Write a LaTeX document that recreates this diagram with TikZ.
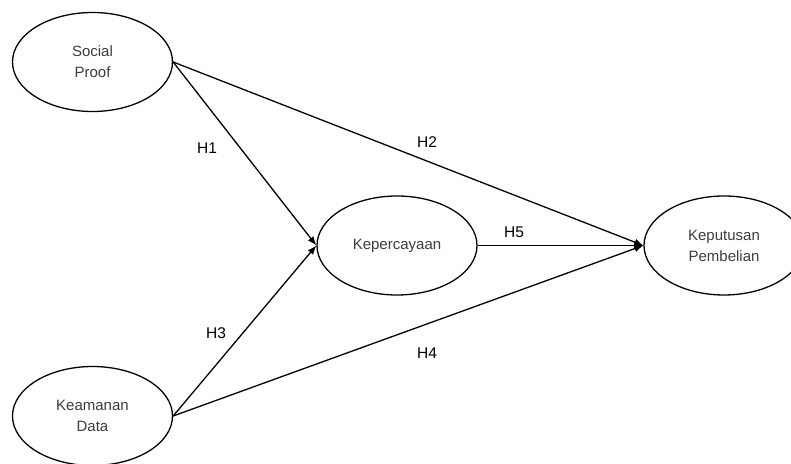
\documentclass[tikz,border=0pt]{standalone}
\usepackage{fontspec}
\setmainfont{Liberation Sans}
\usepackage{xcolor}
\usetikzlibrary{shapes.geometric, arrows.meta, positioning}

\definecolor{textgray}{HTML}{3C3C3C}

\tikzset{
    variabel/.style={ellipse, draw, line width=1.3bp, minimum width=160bp,
        minimum height=99bp, align=center, text=textgray,
        font=\fontsize{15bp}{21bp}\selectfont},
    hipotesis/.style={font=\fontsize{15.5bp}{18bp}\selectfont},
    panah/.style={-{Latex[length=9bp, width=7bp]}, line width=1.3bp}
}

\begin{document}
\begin{tikzpicture}[x=1bp, y=-1bp]
    \useasboundingbox (0,0) rectangle (791,464);

    % Variabel
    \node[variabel] (sp) at (92.5,62) {Social\\Proof};
    \node[variabel] (kd) at (92.5,416) {Keamanan\\Data};
    \node[variabel] (kp) at (397,245.5) {Kepercayaan};
    \node[variabel] (kb) at (724,245.5) {Keputusan\\Pembelian};

    % Hubungan antar variabel
    \draw[panah] (sp.east) -- (kp.west);
    \draw[panah] (sp.east) -- (kb.west);
    \draw[panah] (kd.east) -- (kp.west);
    \draw[panah] (kd.east) -- (kb.west);
    \draw[panah] (kp.east) -- (kb.west);

    % Label hipotesis
    \node[hipotesis] (h1) at (207,148) {H1};
    \node[hipotesis] (h2) at (427,142) {H2};
    \node[hipotesis] (h3) at (216,333) {H3};
    \node[hipotesis] (h4) at (427,353) {H4};
    \node[hipotesis] (h5) at (514,232) {H5};
\end{tikzpicture}
\end{document}
